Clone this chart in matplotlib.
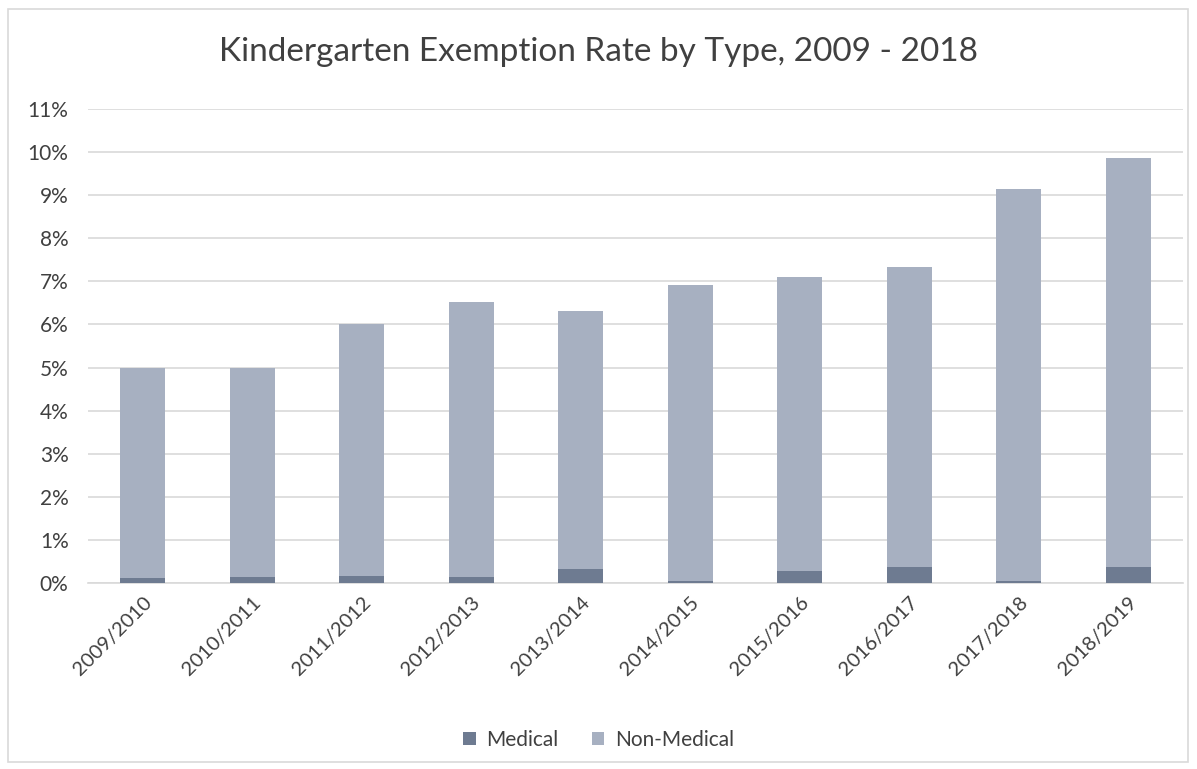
import matplotlib.pyplot as plt
from matplotlib.patches import Rectangle
from matplotlib.ticker import FuncFormatter
import numpy as np

years = ["2009/2010", "2010/2011", "2011/2012", "2012/2013", "2013/2014",
         "2014/2015", "2015/2016", "2016/2017", "2017/2018", "2018/2019"]
total = [5.0, 5.0, 6.0, 6.52, 6.31, 6.91, 7.1, 7.33, 9.15, 9.87]
medical = [0.11, 0.13, 0.17, 0.15, 0.33, 0.05, 0.29, 0.36, 0.05, 0.36]
non_medical = [t - m for t, m in zip(total, medical)]

plt.rcParams['font.family'] = ['Lato', 'DejaVu Sans']

fig = plt.figure(figsize=(11.97, 7.69), dpi=100)
# chart border
fig.patches.append(Rectangle((8 / 1197, 1 - 762 / 769), 1180 / 1197, 753 / 769,
                             transform=fig.transFigure, fill=False,
                             edgecolor="#D9D9D9", linewidth=1.2))

ax = fig.add_axes([88 / 1197, 1 - 583 / 769, 1095 / 1197, 474 / 769])
x = np.arange(len(years))
ax.bar(x, medical, width=0.41, color="#6E7B91", label="Medical", zorder=3)
ax.bar(x, non_medical, width=0.41, bottom=medical, color="#A7B0C1",
       label="Non-Medical", zorder=3)

ax.set_xlim(-0.5, len(years) - 0.5)
ax.set_ylim(0, 11)
ax.set_yticks(range(0, 12))
ax.yaxis.set_major_formatter(FuncFormatter(lambda v, p: f"{int(v)}%"))
ax.grid(axis="y", color="#D9D9D9", linewidth=1.2, zorder=0)
for s in ["top", "right", "left"]:
    ax.spines[s].set_visible(False)
ax.spines["bottom"].set_color("#D9D9D9")
ax.spines["bottom"].set_linewidth(1.2)
ax.tick_params(length=0, labelcolor="#404040")
ax.tick_params(axis="y", labelsize=15, pad=14)
ax.tick_params(axis="x", labelsize=14.5, pad=8)
ax.set_xticks(x)
ax.set_xticklabels(years, rotation=45, ha="right", rotation_mode="anchor")

fig.text(0.5, 1 - 52 / 769, "Kindergarten Exemption Rate by Type, 2009 - 2018",
         ha="center", va="center", fontsize=24, color="#404040")
fig.legend(loc="center", bbox_to_anchor=(0.5, 1 - 740 / 769), ncol=2,
           frameon=False, fontsize=15, handlelength=0.6, handleheight=0.6,
           columnspacing=1.6, handletextpad=0.5, labelcolor="#404040")

fig.savefig("out.png", dpi=100)
